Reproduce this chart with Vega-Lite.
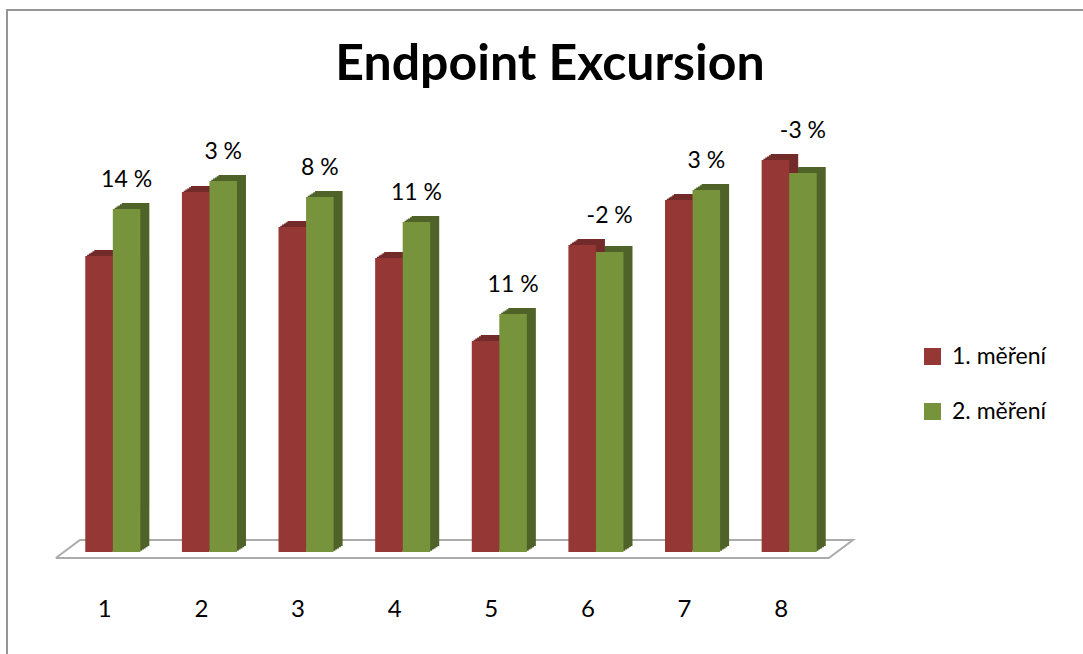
{
  "$schema": "https://vega.github.io/schema/vega-lite/v6.json",
  "autosize": {"type": "none"},
  "padding": {"left": 7, "top": 10, "right": 0, "bottom": 0},
  "width": 1100,
  "height": 700,
  "background": "white",
  "config": {
    "view": {"stroke": "#969696", "strokeWidth": 2},
    "font": "Lato",
    "text": {"font": "Lato", "color": "black"}
  },
  "title": {
    "text": "Endpoint Excursion",
    "font": "Lato",
    "fontSize": 50,
    "fontWeight": "bold",
    "color": "black",
    "anchor": "middle",
    "baseline": "alphabetic",
    "offset": 0,
    "dx": -7,
    "dy": 120
  },
  "datasets": {
    "bars": [
      {"cat": "1", "series": "1. měření", "value": 33.6},
      {"cat": "1", "series": "2. měření", "value": 38.3, "label": "14 %"},
      {"cat": "2", "series": "1. měření", "value": 40.0},
      {"cat": "2", "series": "2. měření", "value": 41.1, "label": "3 %"},
      {"cat": "3", "series": "1. měření", "value": 36.5},
      {"cat": "3", "series": "2. měření", "value": 39.5, "label": "8 %"},
      {"cat": "4", "series": "1. měření", "value": 33.4},
      {"cat": "4", "series": "2. měření", "value": 37.0, "label": "11 %"},
      {"cat": "5", "series": "1. měření", "value": 25.1},
      {"cat": "5", "series": "2. měření", "value": 27.8, "label": "11 %"},
      {"cat": "6", "series": "1. měření", "value": 34.7},
      {"cat": "6", "series": "2. měření", "value": 34.0, "label": "-2 %"},
      {"cat": "7", "series": "1. měření", "value": 39.2},
      {"cat": "7", "series": "2. měření", "value": 40.2, "label": "3 %"},
      {"cat": "8", "series": "1. měření", "value": 43.2},
      {"cat": "8", "series": "2. měření", "value": 41.9, "label": "-3 %"}
    ],
    "floor": [
      {"i": 0, "fx": 0.41, "fy": 3.4},
      {"i": 1, "fx": 0.66, "fy": 5.2},
      {"i": 2, "fx": 8.66, "fy": 5.2},
      {"i": 3, "fx": 8.41, "fy": 3.4},
      {"i": 4, "fx": 0.41, "fy": 3.4}
    ]
  },
  "resolve": {"scale": {"x": "independent"}},
  "layer": [
    {
      "data": {"name": "floor"},
      "mark": {"type": "line", "stroke": "#ababab", "strokeWidth": 2, "strokeJoin": "miter"},
      "encoding": {
        "x": {"field": "fx", "type": "quantitative", "axis": null,
              "scale": {"domain": [0.5, 8.5], "range": [57.5, 830.5], "nice": false, "zero": false}},
        "y": {"field": "fy", "type": "quantitative", "axis": null,
              "scale": {"domain": [4, 44], "range": [542, 142], "nice": false, "zero": false}},
        "order": {"field": "i", "type": "quantitative"}
      }
    },
    {
      "data": {"name": "bars"},
      "mark": {"type": "bar", "yOffset": -1.2, "y2Offset": -1.2},
      "encoding": {
        "x": {"field": "cat", "type": "nominal", "axis": null, "sort": null,
              "scale": {"range": [59.3, 832.3], "paddingInner": 0.43, "paddingOuter": 0.215}},
        "xOffset": {"field": "series", "type": "nominal", "scale": {"domain": ["1. měření", "2. měření"], "paddingInner": 0, "paddingOuter": 0}},
        "y": {"field": "value", "type": "quantitative"},
        "y2": {"datum": 4},
        "color": {"condition": {"test": "datum.series === '1. měření'", "value": "#722b29"}, "value": "#4f6228"}
      }
    },
    {
      "data": {"name": "bars"},
      "mark": {"type": "bar", "yOffset": -2.4, "y2Offset": -2.4},
      "encoding": {
        "x": {"field": "cat", "type": "nominal", "axis": null, "sort": null,
              "scale": {"range": [61.1, 834.1], "paddingInner": 0.43, "paddingOuter": 0.215}},
        "xOffset": {"field": "series", "type": "nominal"},
        "y": {"field": "value", "type": "quantitative"},
        "y2": {"datum": 4},
        "color": {"condition": {"test": "datum.series === '1. měření'", "value": "#722b29"}, "value": "#4f6228"}
      }
    },
    {
      "data": {"name": "bars"},
      "mark": {"type": "bar", "yOffset": -3.6, "y2Offset": -3.6},
      "encoding": {
        "x": {"field": "cat", "type": "nominal", "axis": null, "sort": null,
              "scale": {"range": [62.9, 835.9], "paddingInner": 0.43, "paddingOuter": 0.215}},
        "xOffset": {"field": "series", "type": "nominal"},
        "y": {"field": "value", "type": "quantitative"},
        "y2": {"datum": 4},
        "color": {"condition": {"test": "datum.series === '1. měření'", "value": "#722b29"}, "value": "#4f6228"}
      }
    },
    {
      "data": {"name": "bars"},
      "mark": {"type": "bar", "yOffset": -4.8, "y2Offset": -4.8},
      "encoding": {
        "x": {"field": "cat", "type": "nominal", "axis": null, "sort": null,
              "scale": {"range": [64.7, 837.7], "paddingInner": 0.43, "paddingOuter": 0.215}},
        "xOffset": {"field": "series", "type": "nominal"},
        "y": {"field": "value", "type": "quantitative"},
        "y2": {"datum": 4},
        "color": {"condition": {"test": "datum.series === '1. měření'", "value": "#722b29"}, "value": "#4f6228"}
      }
    },
    {
      "data": {"name": "bars"},
      "mark": {"type": "bar", "yOffset": -6, "y2Offset": -6},
      "encoding": {
        "x": {"field": "cat", "type": "nominal", "axis": null, "sort": null,
              "scale": {"range": [66.5, 839.5], "paddingInner": 0.43, "paddingOuter": 0.215}},
        "xOffset": {"field": "series", "type": "nominal"},
        "y": {"field": "value", "type": "quantitative"},
        "y2": {"datum": 4},
        "color": {"condition": {"test": "datum.series === '1. měření'", "value": "#722b29"}, "value": "#4f6228"}
      }
    },
    {
      "data": {"name": "bars"},
      "encoding": {
        "x": {"field": "cat", "type": "nominal", "axis": null, "sort": null,
              "scale": {"range": [57.5, 830.5], "paddingInner": 0.43, "paddingOuter": 0.215}}
      },
      "layer": [
        {
          "mark": {"type": "bar"},
          "encoding": {
            "xOffset": {"field": "series", "type": "nominal"},
            "y": {"field": "value", "type": "quantitative"},
            "y2": {"datum": 4},
            "color": {
              "field": "series", "type": "nominal",
              "scale": {"domain": ["1. měření", "2. měření"], "range": ["#953735", "#77933c"]},
              "legend": {
                "orient": "none", "legendX": 914, "legendY": 335, "title": null,
                "symbolType": "square", "symbolSize": 289, "symbolStrokeWidth": 0,
                "labelFont": "Lato", "labelFontSize": 23, "labelColor": "black",
                "labelOffset": 8, "rowPadding": 31, "padding": 0
              }
            }
          }
        },
        {
          "transform": [
            {"joinaggregate": [{"op": "max", "field": "value", "as": "top"}], "groupby": ["cat"]},
            {"filter": {"field": "series", "equal": "2. měření"}}
          ],
          "mark": {"type": "text", "fontSize": 23, "baseline": "alphabetic", "align": "center", "dy": -22},
          "encoding": {
            "xOffset": {"field": "series", "type": "nominal"},
            "y": {"field": "top", "type": "quantitative"},
            "text": {"field": "label"}
          }
        },
        {
          "transform": [{"filter": {"field": "series", "equal": "1. měření"}}],
          "mark": {"type": "text", "fontSize": 24, "baseline": "alphabetic", "align": "center", "dx": -8},
          "encoding": {
            "y": {"datum": -2.47, "type": "quantitative"},
            "text": {"field": "cat"}
          }
        }
      ]
    }
  ]
}
